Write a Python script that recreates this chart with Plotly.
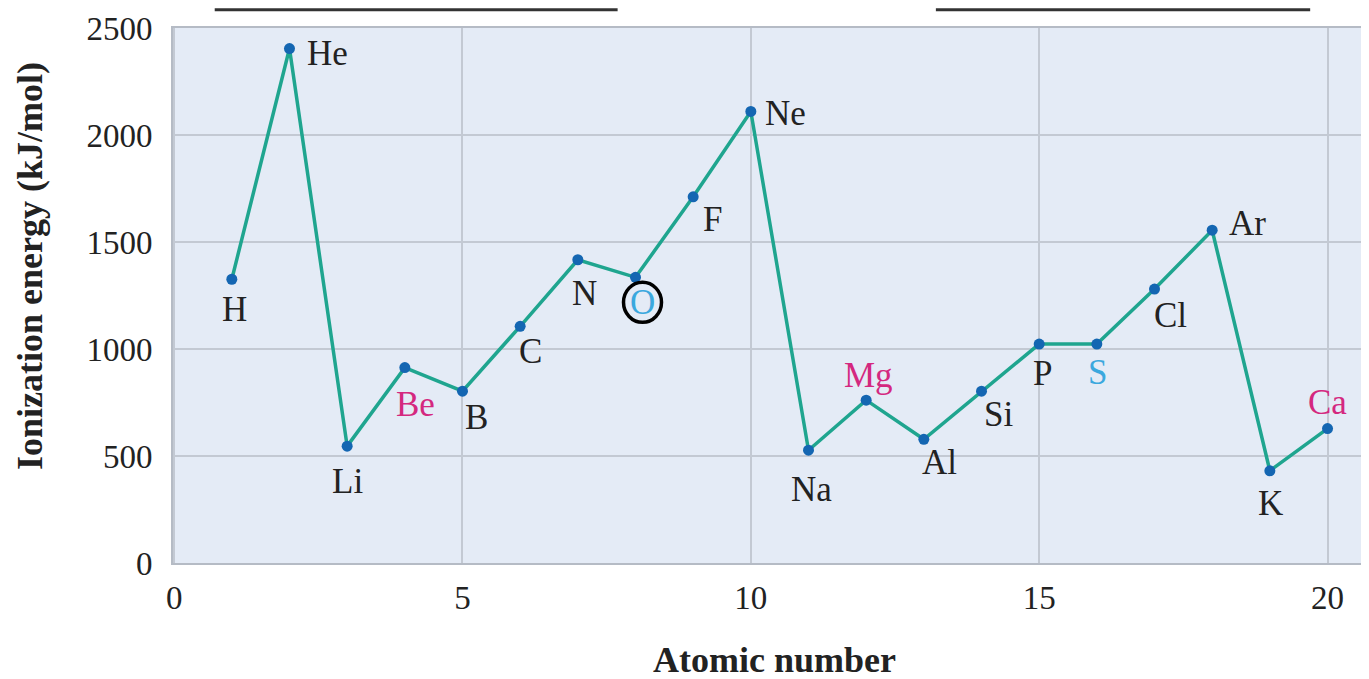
import plotly.graph_objects as go

# first ionization energies, first 20 elements
atomic_numbers = list(range(1, 21))
symbols = ["H", "He", "Li", "Be", "B", "C", "N", "O", "F", "Ne",
           "Na", "Mg", "Al", "Si", "P", "S", "Cl", "Ar", "K", "Ca"]
energies = [1326, 2404, 546, 913, 803, 1106, 1417, 1335, 1711, 2110,
            527, 761, 578, 803, 1023, 1023, 1280, 1555, 431, 628]

# label offsets in pixels (dx, dy), dy positive = up
offsets = [(3, -30), (38, -5), (0, -35), (11, -37), (14, -26), (10, -25),
           (7, -34), (7, -25), (19, -23), (35, -2), (3, -39), (2, 25),
           (16, -23), (17, -23), (3, -29), (1, -28), (16, -26), (35, 7),
           (1, -33), (0, 26)]

MAGENTA = "#D4287F"
SKY = "#3BA8DE"
label_colors = {"Be": MAGENTA, "Mg": MAGENTA, "Ca": MAGENTA, "O": SKY, "S": SKY}

SERIF = "Liberation Serif"

fig = go.Figure()

fig.add_trace(go.Scatter(
    x=atomic_numbers,
    y=energies,
    mode="lines+markers",
    line=dict(color="#1FA58F", width=3.5),
    marker=dict(color="#1466B2", size=11),
    showlegend=False,
    hoverinfo="skip"
))

for z, sym, e, (dx, dy) in zip(atomic_numbers, symbols, energies, offsets):
    fig.add_annotation(
        x=z, y=e, text=sym, showarrow=False,
        xshift=dx, yshift=dy,
        font=dict(family=SERIF, size=35, color=label_colors.get(sym, "#222222"))
    )

# circle around the O label
o_idx = symbols.index("O")
fig.add_shape(
    type="circle", xref="x", yref="y",
    xsizemode="pixel", ysizemode="pixel",
    xanchor=atomic_numbers[o_idx], yanchor=energies[o_idx],
    x0=-12, x1=26, y0=-45, y1=-5,
    line=dict(color="black", width=3.5)
)

# cropped bars above the plot
for x0, x1 in [(0.035, 0.373), (0.640, 0.954)]:
    fig.add_shape(type="line", xref="paper", yref="paper",
                  x0=x0, x1=x1, y0=1.034, y1=1.034,
                  line=dict(color="#333333", width=3))

# axis titles
fig.add_annotation(xref="paper", yref="paper", x=0.505, y=-0.181,
                   xanchor="center", yanchor="middle",
                   text="<b>Atomic number</b>", showarrow=False,
                   font=dict(family=SERIF, size=36, color="#222222"))
fig.add_annotation(xref="paper", yref="paper", x=-0.12, y=0.555,
                   xanchor="center", yanchor="middle",
                   text="<b>Ionization energy (kJ/mol)</b>", showarrow=False,
                   textangle=-90,
                   font=dict(family=SERIF, size=36, color="#222222"))

fig.update_layout(
    width=1369, height=679,
    margin=dict(l=165, r=12, t=20, b=124),
    paper_bgcolor="white",
    plot_bgcolor="#E4EBF6",
    font=dict(family=SERIF, size=33, color="#222222"),
    xaxis=dict(
        range=[-0.02, 20.65],
        tickvals=[0, 5, 10, 15, 20],
        showgrid=True, gridcolor="#C3C9D3", gridwidth=1.5,
        zeroline=False,
        showline=True, linecolor="#B5BBC5", linewidth=2, mirror=True,
        ticks="", ticklabelstandoff=4, automargin=False,
        ticklabeloverflow="allow"
    ),
    yaxis=dict(
        range=[0, 2500],
        tickvals=[0, 500, 1000, 1500, 2000, 2500],
        showgrid=True, gridcolor="#C3C9D3", gridwidth=1.5,
        zeroline=False,
        showline=True, linecolor="#B5BBC5", linewidth=2, mirror=True,
        ticks="", ticklabelstandoff=12, automargin=False,
        ticklabeloverflow="allow"
    )
)

fig.write_html("out.html")
